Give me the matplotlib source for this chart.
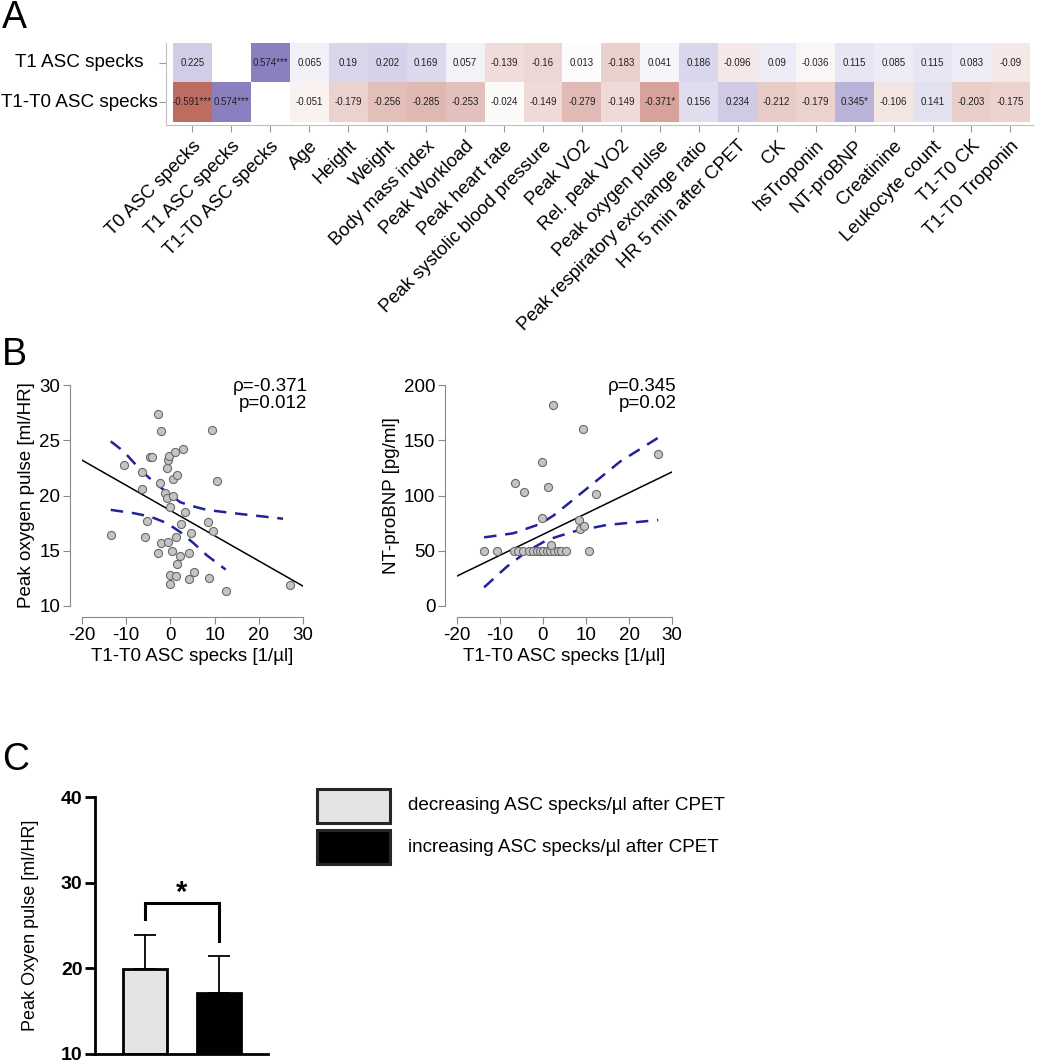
import numpy as np
import matplotlib
matplotlib.use("Agg")
import matplotlib.pyplot as plt
from matplotlib.colors import LinearSegmentedColormap
from matplotlib.patches import Rectangle

plt.rcParams['font.family'] = ['Liberation Sans', 'DejaVu Sans']
plt.rcParams['axes.unicode_minus'] = False

W, H = 1052, 1064

# ---- panel A: Spearman correlations ----
heat_cols = [
    "T0 ASC specks", "T1 ASC specks", "T1-T0 ASC specks", "Age", "Height",
    "Weight", "Body mass index", "Peak Workload", "Peak heart rate",
    "Peak systolic blood pressure", "Peak VO2", "Rel. peak VO2",
    "Peak oxygen pulse", "Peak respiratory exchange ratio",
    "HR 5 min after CPET", "CK", "hsTroponin", "NT-proBNP", "Creatinine",
    "Leukocyte count", "T1-T0 CK", "T1-T0 Troponin",
]
heat_rows = ["T1 ASC specks", "T1-T0 ASC specks"]
rho_t1 = [0.225, np.nan, 0.574, 0.065, 0.19, 0.202, 0.169, 0.057, -0.139,
          -0.16, 0.013, -0.183, 0.041, 0.186, -0.096, 0.09, -0.036, 0.115,
          0.085, 0.115, 0.083, -0.09]
rho_diff = [-0.591, 0.574, np.nan, -0.051, -0.179, -0.256, -0.285, -0.253,
            -0.024, -0.149, -0.279, -0.149, -0.371, 0.156, 0.234, -0.212,
            -0.179, 0.345, -0.106, 0.141, -0.203, -0.175]
sig_t1 = ["", "", "***"] + [""] * 19
sig_diff = ["***", "***"] + [""] * 10 + ["*"] + [""] * 4 + ["*"] + [""] * 4

# ---- panel B: scatter data ----
x_pulse = [-13.5, -10.5, -6.5, -6.5, -5.3, -5.7, -4.7, -4.2, -2.7, -2.2,
           -2.3, -2.1, -2.9, -1.3, -0.8, -0.7, -0.5, -0.4, -0.6, -0.2,
           0.0, 0.0, 0.4, 0.5, 0.7, 1.1, 1.4, 1.2, 1.4, 1.3, 2.2, 2.3, 2.8,
           3.4, 4.1, 4.3, 4.6, 5.3, 8.6, 8.8, 9.3, 9.7, 10.6, 12.5, 27.0]
y_pulse = [16.4, 22.8, 22.1, 20.6, 17.7, 16.2, 23.5, 23.5, 27.4, 25.8,
           21.1, 15.7, 14.8, 20.2, 19.8, 22.5, 23.2, 23.6, 15.8, 19.0,
           12.8, 12.0, 15.0, 21.5, 20.0, 23.9, 21.9, 16.2, 13.8, 12.7,
           14.5, 17.4, 24.2, 18.5, 12.4, 14.8, 16.6, 13.1, 17.6, 12.5,
           25.9, 16.8, 21.3, 11.4, 11.9]
fit_pulse_x = [-20, 30]
fit_pulse_y = [23.2, 11.8]
ci_up_pulse_x = [-13.5, -10.6, -6.5, -3.1, -0.8, 2.2, 4.4, 8.2, 14.2, 25.5]
ci_up_pulse_y = [24.9, 24.0, 22.2, 21.0, 20.3, 19.4, 19.1, 18.7, 18.4, 17.9]
ci_lo_pulse_x = [-13.5, -8.3, -4.6, -0.8, 2.2, 5.2, 8.2, 12.5]
ci_lo_pulse_y = [18.7, 18.4, 18.1, 17.5, 16.7, 15.7, 14.6, 13.3]

x_bnp = [-13.7, -10.6, -6.6, -4.5, -6.7, -5.7, -4.7, -3.2, -2.4, -1.5,
         -0.7, 0.1, 0.9, 1.6, 2.6, 3.6, 4.3, 5.3, -0.3, -0.3, 1.2, 1.9,
         2.3, 8.4, 8.6, 9.6, 9.3, 12.3, 10.6, 26.8]
y_bnp = [50, 50, 111, 103, 50, 50, 50, 50, 50, 50, 50, 50, 50, 50, 50, 50,
         50, 50, 130, 80, 108, 55, 182, 78, 70, 72, 160, 101, 50, 138]
fit_bnp_x = [-20, 30]
fit_bnp_y = [27.1, 121.3]
ci_up_bnp_x = [-13.7, -6.9, -0.7, 2.5, 5.5, 11.7, 17.9, 26.8]
ci_up_bnp_y = [62.1, 65.8, 74.2, 82.0, 91.4, 111.0, 130.6, 152.3]
ci_lo_bnp_x = [-13.7, -8.4, -3.8, 0.9, 7.0, 14.8, 26.8]
ci_lo_bnp_y = [16.9, 35.6, 49.2, 59.7, 67.3, 73.3, 77.8]

# ---- panel C: group means ----
groups = ["decreasing ASC specks/µl after CPET",
          "increasing ASC specks/µl after CPET"]
group_mean = [19.9, 17.1]
group_sd = [4.0, 4.3]
group_color = ["#e4e4e4", "#000000"]

fig = plt.figure(figsize=(W / 100, H / 100), dpi=100)


def box(x0, y0, x1, y1):
    return [x0 / W, 1 - y1 / H, (x1 - x0) / W, (y1 - y0) / H]


# ---------- A ----------
cmap = LinearSegmentedColormap.from_list(
    "rp", [(0, "#b85e52"), (0.5, "#ffffff"), (1, "#7d6fb8")])
mat = np.array([rho_t1, rho_diff])
ax = fig.add_axes(box(166, 43, 1033, 125))
ax.pcolormesh(np.arange(len(heat_cols) + 1), np.arange(3),
              np.ma.masked_invalid(mat), cmap=cmap, vmin=-0.65, vmax=0.65)
for j, (vals, sigs) in enumerate([(rho_t1, sig_t1), (rho_diff, sig_diff)]):
    for i, (v, s) in enumerate(zip(vals, sigs)):
        if np.isnan(v):
            continue
        ax.text(i + 0.5, j + 0.5, f"{v:g}{s}", ha="center", va="center",
                fontsize=7, color="#222222")
ax.set_xlim(-0.18, len(heat_cols) + 0.08)
ax.set_ylim(2.08, 0)
ax.set_xticks(np.arange(len(heat_cols)) + 0.5)
ax.set_xticklabels(heat_cols, rotation=45, ha="right",
                   rotation_mode="anchor", fontsize=13.3)
ax.set_yticks([0.5, 1.5])
ax.set_yticklabels([])
# row labels are centred on each other in the original
trans = matplotlib.transforms.blended_transform_factory(fig.transFigure,
                                                        ax.transData)
for j, name in enumerate(heat_rows):
    ax.text(79.5 / W, j + 0.5, name, transform=trans, ha="center",
            va="center", fontsize=13.6)
for s in ["top", "right"]:
    ax.spines[s].set_visible(False)
for s in ["left", "bottom"]:
    ax.spines[s].set_color("#c0c0c0")
ax.tick_params(color="#999999", length=5, pad=4)

# ---------- B ----------
def scatter_panel(rect, xs, ys, fx, fy, ux, uy, lx, ly, ylim, yticks,
                  ylabel, note):
    ax = fig.add_axes(rect)
    ax.plot(fx, fy, color="black", lw=1.1, zorder=2)
    ax.plot(ux, uy, color="#22229a", lw=1.8, dashes=(5, 3.5), zorder=2)
    ax.plot(lx, ly, color="#22229a", lw=1.8, dashes=(5, 3.5), zorder=2)
    ax.scatter(xs, ys, s=34, facecolor="#c4c4c4", edgecolor="#6a6a6a",
               linewidth=0.8, zorder=3)
    ax.set_xlim(-20, 30)
    ax.set_ylim(*ylim)
    ax.set_xticks([-20, -10, 0, 10, 20, 30])
    ax.set_yticks(yticks)
    ax.spines["left"].set_position(("outward", 8.5))
    ax.spines["bottom"].set_position(("outward", 8))
    for s in ["top", "right"]:
        ax.spines[s].set_visible(False)
    for s in ["left", "bottom"]:
        ax.spines[s].set_color("#8a8a8a")
    ax.tick_params(labelsize=13.5, color="#8a8a8a", length=5, pad=2)
    ax.set_xlabel("T1-T0 ASC specks [1/µl]", fontsize=13.5, labelpad=3)
    ax.set_ylabel(ylabel, fontsize=13.5, labelpad=3)
    ax.text(1.02, 1.03, note, transform=ax.transAxes, ha="right", va="top",
            fontsize=13.5, linespacing=1.0)
    return ax


scatter_panel(box(82, 385, 303, 606), x_pulse, y_pulse, fit_pulse_x,
              fit_pulse_y, ci_up_pulse_x, ci_up_pulse_y, ci_lo_pulse_x,
              ci_lo_pulse_y, (10, 30), [10, 15, 20, 25, 30],
              "Peak oxygen pulse [ml/HR]", "ρ=-0.371\np=0.012")
scatter_panel(box(457, 385, 672, 606), x_bnp, y_bnp, fit_bnp_x, fit_bnp_y,
              ci_up_bnp_x, ci_up_bnp_y, ci_lo_bnp_x, ci_lo_bnp_y, (0, 200),
              [0, 50, 100, 150, 200], "NT-proBNP [pg/ml]",
              "ρ=0.345\np=0.02")

# ---------- C ----------
ax = fig.add_axes(box(95, 797, 268, 1054))
pos = [1, 2]
ax.bar(pos, [m - 10 for m in group_mean], bottom=10, width=0.6,
       color=group_color, edgecolor="black", linewidth=2, zorder=2)
ax.errorbar(pos, group_mean, yerr=[[0, 0], group_sd], fmt="none",
            ecolor="black", elinewidth=1.3, capsize=8, capthick=1.3,
            zorder=1)
ax.plot([1, 1, 2, 2], [25.8, 27.6, 27.6, 23.2], color="black", lw=2.2,
        solid_joinstyle="miter")
ax.text(1.5, 28.8, "*", ha="center", va="center", fontsize=21,
        fontweight="bold")
ax.set_xlim(0.324, 2.662)
ax.set_ylim(10, 40)
ax.set_yticks([10, 20, 30, 40])
ax.set_xticks([])
for s in ["top", "right"]:
    ax.spines[s].set_visible(False)
for s in ["left", "bottom"]:
    ax.spines[s].set_linewidth(2)
ax.tick_params(axis="y", width=2, length=7, labelsize=14, pad=2)
for t in ax.get_yticklabels():
    t.set_fontweight("bold")
ax.set_ylabel("Peak Oxyen pulse [ml/HR]", fontsize=13, labelpad=16)

# legend drawn as separate boxes
lg = fig.add_axes([0, 0, 1, 1])
lg.set_xlim(0, W)
lg.set_ylim(H, 0)
lg.axis("off")
for k, (name, col) in enumerate(zip(groups, group_color)):
    y0 = 789 + k * 41
    lg.add_patch(Rectangle((317, y0), 73, 34, facecolor=col,
                           edgecolor="#262626", linewidth=2.2))
    lg.text(408, y0 + 17, name, ha="left", va="center", fontsize=13.6)

# panel letters
for letter, yy in [("A", 18), ("B", 355), ("C", 760)]:
    fig.text(2 / W, 1 - yy / H, letter, fontsize=27, ha="left",
             va="center")

fig.savefig("out.png", dpi=100)
